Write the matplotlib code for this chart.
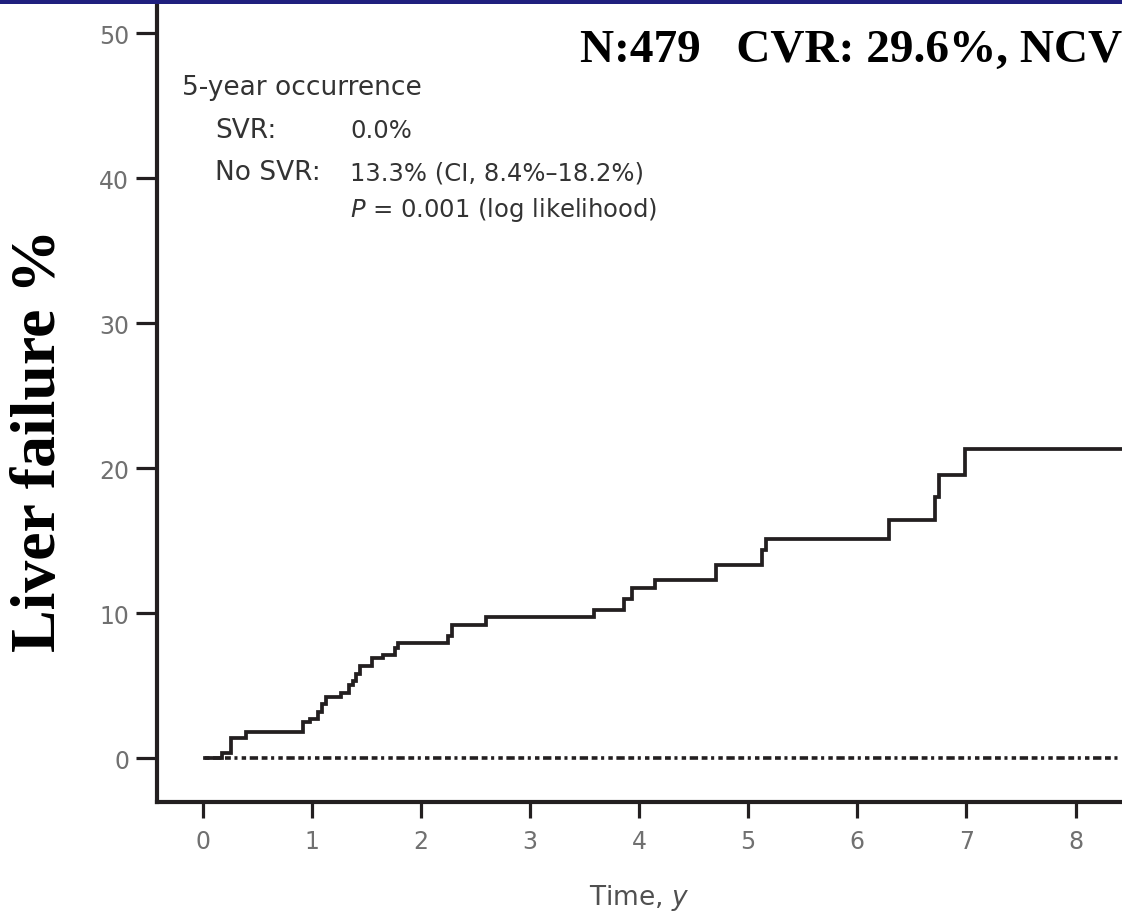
import matplotlib
matplotlib.use("Agg")
import matplotlib.pyplot as plt
from matplotlib.patches import Rectangle

# Cumulative occurrence of liver failure (%), step times in years
no_svr_times = [0.02, 0.174, 0.257, 0.394, 0.919, 0.983, 1.06, 1.09, 1.13, 1.265,
                1.34, 1.373, 1.405, 1.442, 1.549, 1.65, 1.763, 1.793, 2.246, 2.282,
                2.597, 3.589, 3.864, 3.932, 4.146, 4.705, 5.126, 5.16, 6.29, 6.71,
                6.745, 6.986, 8.5]
no_svr_values = [0.0, 0.35, 1.4, 1.8, 2.46, 2.67, 3.2, 3.7, 4.2, 4.5,
                 5.05, 5.3, 5.8, 6.35, 6.9, 7.1, 7.6, 7.9, 8.4, 9.2,
                 9.7, 10.2, 11.0, 11.74, 12.3, 13.3, 14.35, 15.1, 16.45, 18.0,
                 19.5, 21.3, 21.3]
svr_times = [0.02, 8.4]
svr_values = [0.0, 0.0]

x_ticks = [0, 1, 2, 3, 4, 5, 6, 7, 8]
y_ticks = [0, 10, 20, 30, 40, 50]

title_text = "N:479   CVR: 29.6%, NCV"
ylabel_text = "Liver failure %"
xlabel_text = "Time, $y$"
note_head = "5-year occurrence"
note_rows = [("SVR:", "0.0%"), ("No SVR:", "13.3% (CI, 8.4%\u201318.2%)")]
note_p = "$P$ = 0.001 (log likelihood)"

W, H = 1122, 912
INK = "#231f20"

plt.rcParams["lines.scale_dashes"] = False
fig = plt.figure(figsize=(W / 100, H / 100), dpi=100)

def fx(px):
    return px / W

def fy(py):
    return 1 - py / H

# navy band across the top
fig.patches.append(Rectangle((0, fy(4.5)), 1, 4.5 / H, transform=fig.transFigure,
                             facecolor="#1f1f7e", edgecolor="none", zorder=5))

ax = fig.add_axes([fx(157), fy(802.7), 1 - fx(157), fy(4) - fy(802.7)])
ax.set_xlim(-0.419, 8.426)
ax.set_ylim(-3.01, 52.07)

ax.step(no_svr_times, no_svr_values, where="post", color=INK, lw=2.7,
        solid_joinstyle="miter", zorder=3)
ax.plot(svr_times, svr_values, color=INK, lw=2.6,
        linestyle=(0, (3.2, 2.6, 6.0, 2.6, 4.2, 2.6, 2.2, 3.0)), zorder=2)

for side in ("top", "right"):
    ax.spines[side].set_visible(False)
for side in ("left", "bottom"):
    ax.spines[side].set_linewidth(3.0)
    ax.spines[side].set_color(INK)

ax.set_xticks(x_ticks)
ax.set_yticks(y_ticks)
ax.tick_params(axis="x", length=11.7, width=2.3, color=INK, pad=8,
               labelsize=17, labelcolor="#707070")
ax.tick_params(axis="y", length=15, width=2.3, color=INK, pad=5,
               labelsize=17, labelcolor="#707070")

# axis titles
fig.text(fx(639), fy(905), xlabel_text, ha="center", va="baseline",
         fontsize=19, color="#505050", family="DejaVu Sans")
fig.text(fx(40), fy(440), ylabel_text, rotation=90, ha="center", va="center",
         fontsize=46, fontweight="bold", family="Liberation Serif", color="black")

# headline
fig.text(fx(580), fy(62), title_text, ha="left", va="baseline",
         fontsize=34, fontweight="bold", family="Liberation Serif", color="black")

# 5-year occurrence note
note_color = "#333333"
fig.text(fx(182), fy(95), note_head, ha="left", va="baseline",
         fontsize=19, color=note_color)
row_base = [138, 180]
for (lab, val), yb in zip(note_rows, row_base):
    fig.text(fx(215), fy(yb), lab, ha="left", va="baseline",
             fontsize=19, color=note_color)
    fig.text(fx(350), fy(yb), val, ha="left", va="baseline",
             fontsize=17.5, color=note_color)
fig.text(fx(350), fy(217), note_p, ha="left", va="baseline",
         fontsize=17.5, color=note_color)

fig.savefig("out.png", dpi=100)
